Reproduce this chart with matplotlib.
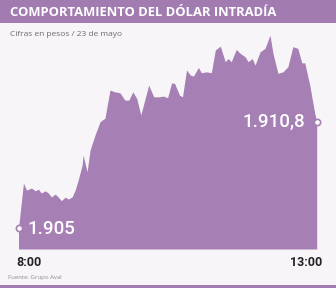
import matplotlib
matplotlib.use("Agg")
import matplotlib.pyplot as plt
from matplotlib.patches import Rectangle

# ---- data (minutes after 8:00, COP per USD) ----
minutes = [0, 5, 8, 13, 17, 20, 23, 27, 30, 33, 37, 40, 43, 47, 50, 54, 57, 60, 64, 65,
           69, 72, 77, 82, 87, 92, 97, 102, 107, 111, 115, 119, 123, 131, 136, 141, 146,
           150, 154, 157, 162, 165, 169, 173, 176, 181, 184, 189, 194, 198, 203, 208, 211,
           214, 219, 223, 228, 231, 235, 238, 243, 248, 253, 256, 261, 266, 271, 276, 281,
           285, 288, 293, 298, 300]
values = [1905.00, 1907.45, 1907.07, 1907.18, 1907.03, 1907.12, 1906.91, 1907.03, 1906.91,
          1906.70, 1906.85, 1906.69, 1906.49, 1906.69, 1906.58, 1906.70, 1907.07, 1907.61,
          1908.43, 1908.98, 1908.07, 1909.25, 1910.07, 1910.79, 1910.99, 1912.52, 1912.42,
          1912.37, 1911.97, 1911.97, 1912.42, 1912.06, 1911.16, 1912.79, 1912.15, 1912.15,
          1912.19, 1912.10, 1912.91, 1912.88, 1912.24, 1912.15, 1913.61, 1913.33, 1913.28,
          1913.75, 1913.46, 1913.51, 1913.46, 1914.70, 1914.91, 1914.06, 1914.24, 1914.06,
          1914.73, 1914.52, 1914.33, 1914.06, 1914.24, 1913.88, 1914.60, 1914.79, 1915.51,
          1914.52, 1913.43, 1913.51, 1913.79, 1914.88, 1914.79, 1914.00, 1914.00, 1912.79,
          1911.25, 1910.80]
start_label = "1.905"
end_label = "1.910,8"
x_tick_labels = ["8:00", "13:00"]
title = "COMPORTAMIENTO DEL DÓLAR INTRADÍA"
subtitle = "Cifras en pesos / 23 de mayo"
source = "Fuente: Grupo Aval"

PURPLE = "#a67fb4"
BG = "#f8f5f9"

fig = plt.figure(figsize=(3.36, 2.88), dpi=100)
fig.patch.set_facecolor(BG)

# title band and bottom rule
fig.add_artist(Rectangle((0, 1 - 23 / 288), 1, 23 / 288, transform=fig.transFigure,
                         facecolor="#a27bb0", edgecolor="none"))
fig.add_artist(Rectangle((0, 0), 1, 3 / 288, transform=fig.transFigure,
                         facecolor="#a27bb0", edgecolor="none"))
fig.text(10 / 336, 1 - 12 / 288, title, color="white", fontsize=9.4, fontweight="bold",
         family="Open Sans", va="center", ha="left")
fig.text(10 / 336, 1 - 34 / 288, subtitle, color="#6b6b6b", fontsize=6.0,
         family="Open Sans", va="center", ha="left")
fig.text(8 / 336, 1 - 278 / 288, source, color="#8a8a8a", fontsize=4.3,
         family="Open Sans", va="center", ha="left")

ax = fig.add_axes([18.5 / 336, 1 - 249 / 288, 298.2 / 336, 219 / 288])
ax.set_facecolor("none")
ymin = 1903.86
ymax = 1915.79
ax.fill_between(minutes, values, ymin, color=PURPLE, linewidth=0)
ax.set_xlim(0, 300)
ax.set_ylim(ymin, ymax)
for s in ax.spines.values():
    s.set_visible(False)
ax.set_xticks([])
ax.set_yticks([])

ax.plot([minutes[0], minutes[-1]], [values[0], values[-1]], "o", ms=4.5,
        mfc="white", mec=PURPLE, mew=1.2, clip_on=False, zorder=5)
ax.text(minutes[0] + 9.5, values[0] - 0.05, start_label, color="white", fontsize=13.5,
        family="Roboto", fontweight="medium", va="center", ha="left")
ax.text(minutes[-1] - 11.5, values[-1] + 0.0, end_label, color="white", fontsize=13.5,
        family="Roboto", fontweight="medium", va="center", ha="right")

fig.text(16 / 336, 1 - 262 / 288, x_tick_labels[0], color="#222222", fontsize=9,
         family="Roboto", fontweight="bold", va="center", ha="left")
fig.text(322 / 336, 1 - 262 / 288, x_tick_labels[1], color="#222222", fontsize=9,
         family="Roboto", fontweight="bold", va="center", ha="right")

fig.savefig("out.png", dpi=100, facecolor=BG)
